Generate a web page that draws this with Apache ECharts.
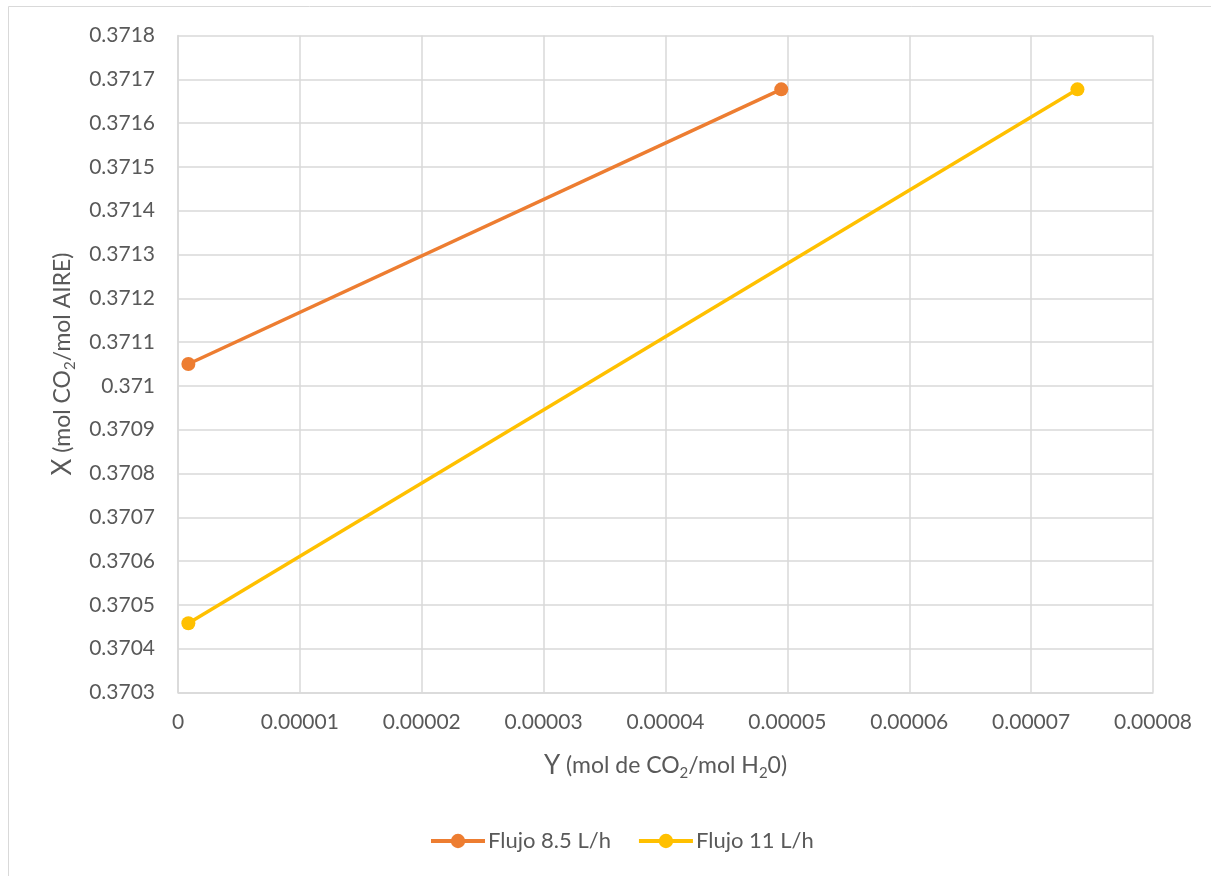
<!DOCTYPE html>
<html>
<head>
<meta charset="utf-8">
<script src="https://cdn.jsdelivr.net/npm/echarts@6/dist/echarts.min.js"></script>
<style>
  html, body { margin: 0; padding: 0; background: #fff; }
  #chart { width: 1211px; height: 876px; }
</style>
</head>
<body>
<div id="chart"></div>
<script>
// Equilibrium data: Y (mol CO2 / mol H2O) vs X (mol CO2 / mol air)
const seriesNames = ['Flujo 8.5 L/h', 'Flujo 11 L/h'];
const flow85Y = [0.00000085, 0.0000495];
const flow85X = [0.37105, 0.371677];
const flow11Y = [0.00000085, 0.0000738];
const flow11X = [0.370458, 0.371677];
const seriesColors = ['#ED7D31', '#FFC000'];

const xMin = 0, xMax = 0.00008, xStep = 0.00001;
const yMin = 0.3703, yMax = 0.3718, yStep = 0.0001;

const FONT = 'Lato';
const TEXT = '#595959';
const GRID = '#d9d9d9';

function pairs(xs, ys) { return xs.map((x, i) => [x, ys[i]]); }

const chart = echarts.init(document.getElementById('chart'), null, { renderer: 'canvas' });

const nameRich = {
  big: { fontFamily: FONT, fontSize: 26, color: TEXT, lineHeight: 30, verticalAlign: 'middle' },
  t:   { fontFamily: FONT, fontSize: 23, color: TEXT, lineHeight: 30, verticalAlign: 'middle' },
  sub: { fontFamily: FONT, fontSize: 15, color: TEXT, lineHeight: 15, verticalAlign: 'bottom' }
};

chart.setOption({
  animation: false,
  backgroundColor: '#fff',
  textStyle: { fontFamily: FONT },
  graphic: [{
    type: 'rect',
    shape: { x: 8.5, y: 6.5, width: 1230, height: 900 },
    style: { fill: 'none', stroke: GRID, lineWidth: 1 },
    silent: true,
    z: -1
  }],
  grid: { left: 178, right: 58, top: 35.5, bottom: 183.5, containLabel: false },
  legend: {
    data: seriesNames,
    left: 424,
    top: 825,
    itemWidth: 54,
    itemHeight: 18,
    itemGap: 26,
    lineStyle: { width: 4 },
    textStyle: { fontFamily: FONT, fontSize: 22, color: TEXT, padding: [0, 0, 0, -2] }
  },
  xAxis: {
    type: 'value',
    min: xMin, max: xMax, interval: xStep,
    name: '{big|Y}{t| (mol de CO}{sub|2}{t|/mol H}{sub|2}{t|0)}',
    nameLocation: 'middle',
    nameGap: 58,
    nameTextStyle: { rich: nameRich },
    axisLine: { show: true, lineStyle: { color: GRID, width: 1.5 } },
    axisTick: { show: false },
    splitLine: { show: true, lineStyle: { color: GRID, width: 1.5 } },
    axisLabel: {
      color: TEXT, fontFamily: FONT, fontSize: 21, margin: 19,
      formatter: v => v === 0 ? '0' : v.toFixed(5)
    }
  },
  yAxis: {
    type: 'value',
    min: yMin, max: yMax, interval: yStep,
    name: '{big|X}{t| (mol CO}{sub|2}{t|/mol AIRE)}',
    nameLocation: 'middle',
    nameRotate: 90,
    nameGap: 100,
    nameTextStyle: { rich: nameRich },
    axisLine: { show: true, lineStyle: { color: GRID, width: 1.5 } },
    axisTick: { show: false },
    splitLine: { show: true, lineStyle: { color: GRID, width: 1.5 } },
    axisLabel: {
      color: TEXT, fontFamily: FONT, fontSize: 21, margin: 23,
      formatter: v => String(parseFloat(v.toFixed(4)))
    }
  },
  series: [
    {
      name: seriesNames[0], type: 'line', data: pairs(flow85Y, flow85X),
      symbol: 'circle', symbolSize: 14,
      lineStyle: { color: seriesColors[0], width: 3.5 },
      itemStyle: { color: seriesColors[0] }
    },
    {
      name: seriesNames[1], type: 'line', data: pairs(flow11Y, flow11X),
      symbol: 'circle', symbolSize: 14,
      lineStyle: { color: seriesColors[1], width: 3.5 },
      itemStyle: { color: seriesColors[1] }
    }
  ]
});
</script>
</body>
</html>
